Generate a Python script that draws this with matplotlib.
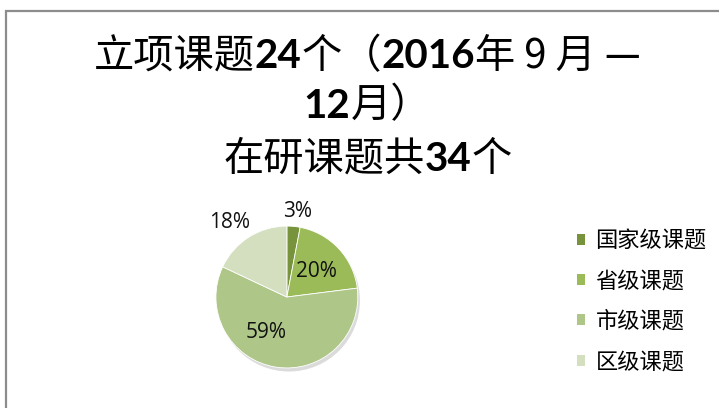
import matplotlib
matplotlib.use("Agg")
import matplotlib.pyplot as plt
import numpy as np
from matplotlib.patches import Patch, Rectangle, Circle

CJK = ["Noto Sans CJK SC", "DejaVu Sans"]
plt.rcParams["font.family"] = CJK

# share of topics in progress, by level (percent)
categories = ["国家级课题", "省级课题", "市级课题", "区级课题"]
shares = [3, 20, 59, 18]
colors = ["#77933c", "#9bbb59", "#afc689", "#d3dfbf"]

# title pieces: (text, bold digits?)
title_lines = [
    [("立项课题", False), ("24", True), ("个（", False), ("2016", True),
     ("年 9 月 —", False)],
    [("12", True), ("月）", False)],
    [("在研课题共", False), ("34", True), ("个", False)],
]

fig = plt.figure(figsize=(7.19, 4.08), dpi=100)
fig.patch.set_facecolor("white")

# outer chart frame (runs off the right and bottom edges)
fig.patches.append(Rectangle((0.0083, -0.05), 1.1, 0.973 + 0.05,
                             transform=fig.transFigure, fill=False,
                             edgecolor="#8c8c8c", lw=1.6))

renderer = fig.canvas.get_renderer()


def draw_line(parts, xc, y, size=29):
    texts = []
    for s, bold in parts:
        if bold:
            t = fig.text(0, y, s, fontsize=size, fontweight="bold",
                         family=["Lato", "DejaVu Sans"], va="baseline")
        else:
            t = fig.text(0, y, s, fontsize=size, family=CJK, va="baseline")
        texts.append(t)
    widths = [t.get_window_extent(renderer).width / fig.bbox.width for t in texts]
    x = xc - sum(widths) / 2
    for t, w in zip(texts, widths):
        t.set_x(x)
        x += w


for parts, y in zip(title_lines, [0.833, 0.712, 0.582]):
    draw_line(parts, 0.511, y)

# pie
ax = fig.add_axes([0.251, 0.011, 0.296, 0.522])
wedges, _ = ax.pie(shares, colors=colors, startangle=90, counterclock=False,
                   radius=1.0, wedgeprops=dict(linewidth=0.6, edgecolor="white"))
ax.add_patch(Circle((0.03, -0.05), 1.0, color="#9a9a9a", alpha=0.35,
                    zorder=0, lw=0))
for w in wedges:
    w.set_zorder(2)
ax.set_xlim(-1.5, 1.5)
ax.set_ylim(-1.5, 1.5)
ax.set_aspect("equal")
ax.axis("off")

label_dist = [1.22, 0.55, 0.58, 1.32]
angle_nudge = [-2, -2, -22, 5]
for w, s, d, nudge in zip(wedges, shares, label_dist, angle_nudge):
    mid = np.deg2rad((w.theta1 + w.theta2) / 2 + nudge)
    ax.text(d * np.cos(mid), d * np.sin(mid), f"{s}%", ha="center", va="center",
            fontsize=15, family=["Open Sans", "DejaVu Sans"], color="#111111",
            zorder=3)

handles = [Patch(facecolor=c, edgecolor="none") for c in colors]
fig.legend(handles, categories, loc="center left",
           bbox_to_anchor=(0.774, 0.262), frameon=False,
           handlelength=0.4, handleheight=0.4, handletextpad=0.45,
           labelspacing=0.78, prop={"family": CJK, "size": 16})

fig.savefig("out.png", dpi=100, facecolor="white")
